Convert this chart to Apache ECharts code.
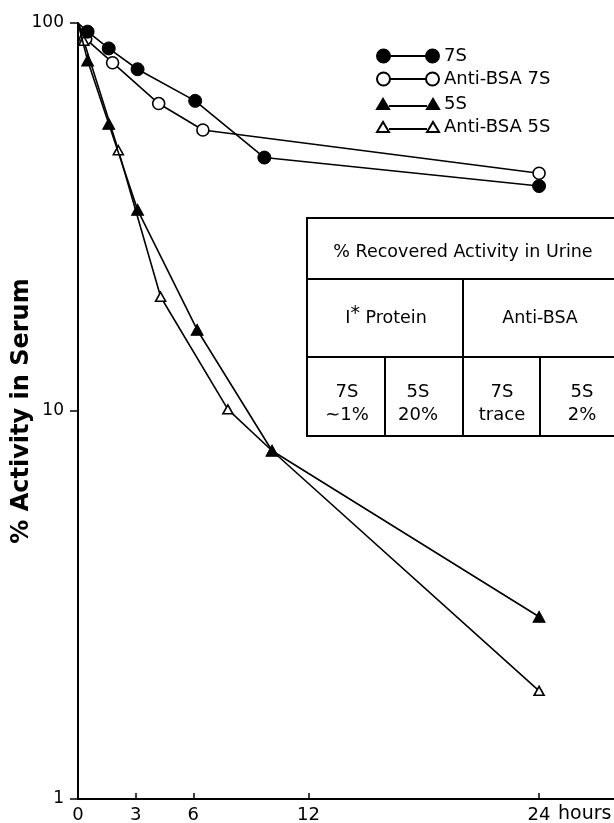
<!DOCTYPE html>
<html>
<head>
<meta charset="utf-8">
<script src="https://cdn.jsdelivr.net/npm/echarts@6/dist/echarts.min.js"></script>
<style>
html,body{margin:0;padding:0;background:#fff;}
#chart{width:614px;height:823px;}
</style>
</head>
<body>
<div id="chart"></div>
<script>
// ---- data ----
var seriesNames = ['7S', 'Anti-BSA 7S', '5S', 'Anti-BSA 5S'];
var t7S      = [0, 0.5, 1.6, 3.1, 6.1, 9.7, 24];
var v7S      = [100, 95, 86, 76, 63, 45, 38];
var tAnti7S  = [0, 0.4, 1.8, 4.2, 6.5, 24];
var vAnti7S  = [100, 91, 79, 62, 53, 41];
var t5S      = [0, 0.5, 1.6, 3.1, 6.2, 10.1, 24];
var v5S      = [100, 80, 55, 33, 16.2, 7.9, 2.95];
var tAnti5S  = [0, 0.3, 2.1, 4.3, 7.8, 10.1, 24];
var vAnti5S  = [100, 90, 47, 19.7, 10.1, 7.9, 1.9];
var xTickValues = [0, 3, 6, 12, 24];
var xUnit = 'hours';
var yAxisTitle = '% Activity in Serum';

// inset table texts
var tableTitle = '% Recovered Activity in Urine';
var tableGroups = ['{n|I}{sup|*}{n| Protein}', 'Anti-BSA'];
var tableCells = [['7S', '\u223C1%'], ['5S', '20%'], ['7S', 'trace'], ['5S', '2%']];

// ---- build ----
function pairs(ts, vs) {
  return ts.map(function (t, i) {
    var p = { value: [t, vs[i]] };
    if (t === 0) p.symbol = 'none';
    return p;
  });
}
var FONT = 'DejaVu Sans';
var circleIcon = 'path://M0,6.5 A6.5,6.5 0 1,1 13,6.5 A6.5,6.5 0 1,1 0,6.5 Z M13,6.5 L49,6.5 M49,6.5 A6.5,6.5 0 1,1 62,6.5 A6.5,6.5 0 1,1 49,6.5 Z';
var triIcon = 'path://M0,10 L6,0 L12,10 Z M12,7 L50,7 M50,10 L56,0 L62,10 Z';

function mkSeries(name, ts, vs, symbol, size, filled) {
  return {
    name: name,
    type: 'line',
    data: pairs(ts, vs),
    symbol: symbol,
    symbolSize: size,
    showAllSymbol: true,
    z: filled ? 3 : 2,
    lineStyle: { color: '#000', width: 1.6 },
    itemStyle: filled ? { color: '#000', borderColor: '#000', borderWidth: 1 }
                      : { color: '#fff', borderColor: '#000', borderWidth: 1.6 },
    emphasis: { disabled: true },
    animation: false
  };
}

var chart = echarts.init(document.getElementById('chart'), null, { renderer: 'canvas' });

var cellStyle = function (x, cell) {
  return { type: 'text', z: 11, x: x, y: 404, style: { text: cell.join('\n'), font: '18px ' + FONT, lineHeight: 23, fill: '#000', align: 'center', verticalAlign: 'middle' } };
};

var option = {
  backgroundColor: '#fff',
  animation: false,
  textStyle: { fontFamily: FONT, color: '#000' },
  grid: { left: 78, right: 0, top: 23, bottom: 24, containLabel: false, outerBoundsMode: 'none' },
  legend: [
    {
      data: [{ name: seriesNames[0], icon: circleIcon }, { name: seriesNames[1], icon: circleIcon }],
      orient: 'vertical', left: 371, top: 42, itemWidth: 62, itemHeight: 13, itemGap: 5,
      textStyle: { fontFamily: FONT, fontSize: 18, color: '#000' },
      selectedMode: false
    },
    {
      data: [{ name: seriesNames[2], icon: triIcon }, { name: seriesNames[3], icon: triIcon }],
      orient: 'vertical', left: 371, top: 90, itemWidth: 62, itemHeight: 10, itemGap: 5,
      textStyle: { fontFamily: FONT, fontSize: 18, color: '#000' },
      selectedMode: false
    }
  ],
  xAxis: {
    type: 'value', min: 0, max: 27.9,
    axisLine: { show: true, onZero: false, lineStyle: { color: '#000', width: 2 } },
    axisTick: { show: true, inside: true, length: 6, customValues: xTickValues, lineStyle: { color: '#000', width: 1.5 } },
    axisLabel: { customValues: xTickValues, color: '#000', fontFamily: FONT, fontSize: 18, margin: 7 },
    splitLine: { show: false }
  },
  yAxis: {
    type: 'log', logBase: 10, min: 1, max: 100,
    name: yAxisTitle, nameLocation: 'middle', nameGap: 44, nameRotate: 90, nameMoveOverlap: false,
    nameTextStyle: { fontFamily: FONT, fontSize: 24, fontWeight: 'bold', color: '#000' },
    axisLine: { show: true, onZero: false, lineStyle: { color: '#000', width: 2 } },
    axisTick: { show: true, inside: false, length: 8, lineStyle: { color: '#000', width: 1.5 } },
    minorTick: { show: false },
    axisLabel: { color: '#000', fontFamily: FONT, fontSize: 17, margin: 14 },
    splitLine: { show: false }
  },
  series: [
    mkSeries(seriesNames[0], t7S, v7S, 'circle', 13, true),
    mkSeries(seriesNames[1], tAnti7S, vAnti7S, 'circle', 12, false),
    mkSeries(seriesNames[2], t5S, v5S, 'triangle', [12, 11], true),
    mkSeries(seriesNames[3], tAnti5S, vAnti5S, 'triangle', [10, 9], false)
  ],
  graphic: [
    { type: 'text', x: 558, y: 805, style: { text: xUnit, font: '19px ' + FONT, fill: '#000' } },
    { type: 'rect', z: 10, shape: { x: 307, y: 218, width: 310, height: 218 }, style: { fill: '#fff', stroke: '#000', lineWidth: 2 } },
    { type: 'line', z: 10, shape: { x1: 307, y1: 279, x2: 616, y2: 279 }, style: { stroke: '#000', lineWidth: 2 } },
    { type: 'line', z: 10, shape: { x1: 307, y1: 357, x2: 616, y2: 357 }, style: { stroke: '#000', lineWidth: 2 } },
    { type: 'line', z: 10, shape: { x1: 463, y1: 279, x2: 463, y2: 436 }, style: { stroke: '#000', lineWidth: 2 } },
    { type: 'line', z: 10, shape: { x1: 385, y1: 357, x2: 385, y2: 436 }, style: { stroke: '#000', lineWidth: 2 } },
    { type: 'line', z: 10, shape: { x1: 540, y1: 357, x2: 540, y2: 436 }, style: { stroke: '#000', lineWidth: 2 } },
    { type: 'text', z: 11, x: 463, y: 252, style: { text: tableTitle, font: '17.5px ' + FONT, fill: '#000', align: 'center', verticalAlign: 'middle' } },
    { type: 'text', z: 11, x: 386, y: 318, style: { text: tableGroups[0], fill: '#000', align: 'center', verticalAlign: 'middle',
        rich: { n: { fontFamily: FONT, fontSize: 17.5, color: '#000' }, sup: { fontFamily: FONT, fontSize: 19, color: '#000', padding: [0, 0, 8, 0] } } } },
    { type: 'text', z: 11, x: 540, y: 318, style: { text: tableGroups[1], font: '17.5px ' + FONT, fill: '#000', align: 'center', verticalAlign: 'middle' } },
    cellStyle(347, tableCells[0]),
    cellStyle(418, tableCells[1]),
    cellStyle(502, tableCells[2]),
    cellStyle(582, tableCells[3])
  ]
};
chart.setOption(option);
</script>
</body>
</html>
